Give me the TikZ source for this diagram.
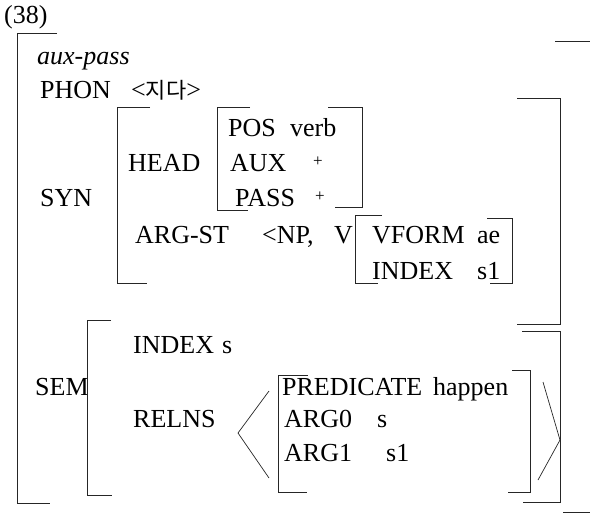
\documentclass[tikz,border=0pt]{standalone}
\usepackage{fontspec}
\setmainfont{Liberation Serif}
\newfontfamily\kr{Noto Sans CJK KR}
\usepackage{tikz}
\usetikzlibrary{positioning}

\begin{document}
\begin{tikzpicture}[
    x=1pt, y=-1pt,
    feat/.style={anchor=base west, inner sep=0pt,
      font=\fontsize{26}{30}\selectfont},
    plus/.style={inner sep=0pt, font=\fontsize{17}{20}\selectfont},
    brk/.style={draw=black!85, line width=0.9pt},
    angl/.style={draw=black!85, line width=0.7pt}
  ]
    \useasboundingbox (0,0) rectangle (590,515);

    % ── Number and type ──────────────────────────────────────
    \node[feat]                  (num)   at (4,23)  {(38)};
    \node[feat, font=\fontsize{26}{30}\selectfont\itshape]
                                 (type)  at (37,64) {aux-pass};
    \node[feat]                  (phon)  at (40,98) {PHON};
    \node[feat]                  (phonv) at (131,98)
         {<{\kr\fontsize{22}{26}\selectfont 지다}>};

    % ── SYN ──────────────────────────────────────────────────
    \node[feat] (syn)    at (40,206)  {SYN};
    \node[feat] (head)   at (128,171) {HEAD};
    \node[feat] (pos)    at (228,136) {POS};
    \node[feat] (posv)   at (290,136) {verb};
    \node[feat] (aux)    at (230,171) {AUX};
    \node[plus] (auxv)   at (318,162) {+};
    \node[feat] (pass)   at (235,206) {PASS};
    \node[plus] (passv)  at (320,197) {+};
    \node[feat] (argst)  at (135,243) {ARG-ST};
    \node[feat] (np)     at (262,243) {<NP,};
    \node[feat] (v)      at (334,243) {V};
    \node[feat] (vform)  at (372,243) {VFORM};
    \node[feat] (vformv) at (477,243) {ae};
    \node[feat] (vidx)   at (372,279) {INDEX};
    \node[feat] (vidxv)  at (477,279) {s1};

    % ── SEM ──────────────────────────────────────────────────
    \node[feat] (sem)    at (35,395)  {SEM};
    \node[feat] (idx)    at (133,353) {INDEX};
    \node[feat] (idxv)   at (222,353) {s};
    \node[feat] (relns)  at (133,427) {RELNS};
    \node[feat] (pred)   at (282,395) {PREDICATE};
    \node[feat] (predv)  at (433,395) {happen};
    \node[feat] (arg0)   at (284,427) {ARG0};
    \node[feat] (arg0v)  at (377,427) {s};
    \node[feat] (arg1)   at (284,461) {ARG1};
    \node[feat] (arg1v)  at (386,461) {s1};

    % ── Outer brackets ───────────────────────────────────────
    \draw[brk] (57,33) -- (17,33) -- (17,503) -- (50,503);
    \draw[brk] (555,41) -- (590,41);
    \draw[brk] (563,512) -- (590,512);

    % ── SYN brackets ─────────────────────────────────────────
    \draw[brk] (150,107) -- (117,107) -- (117,283) -- (147,283);
    \draw[brk] (517,98) -- (560,98) -- (560,324) -- (517,324);
    \draw[brk] (250,107) -- (217,107) -- (217,210) -- (248,210);
    \draw[brk] (328,107) -- (362,107) -- (362,207) -- (335,207);
    \draw[brk] (382,215) -- (355,215) -- (355,283) -- (378,283);
    \draw[brk] (487,218) -- (512,218) -- (512,283) -- (490,283);

    % ── SEM brackets ─────────────────────────────────────────
    \draw[brk] (111,320) -- (87,320) -- (87,495) -- (112,495);
    \draw[brk] (522,331) -- (560,331) -- (560,502) -- (523,502);
    \draw[brk] (308,375) -- (278,375) -- (278,492) -- (307,492);
    \draw[brk] (512,370) -- (530,370) -- (530,492) -- (508,492);

    % ── RELNS list angles ────────────────────────────────────
    \draw[angl] (269,391) -- (238,433) -- (269,478);
    \draw[angl] (543,382) -- (560,440) -- (538,480);
  \end{tikzpicture}
\end{document}
